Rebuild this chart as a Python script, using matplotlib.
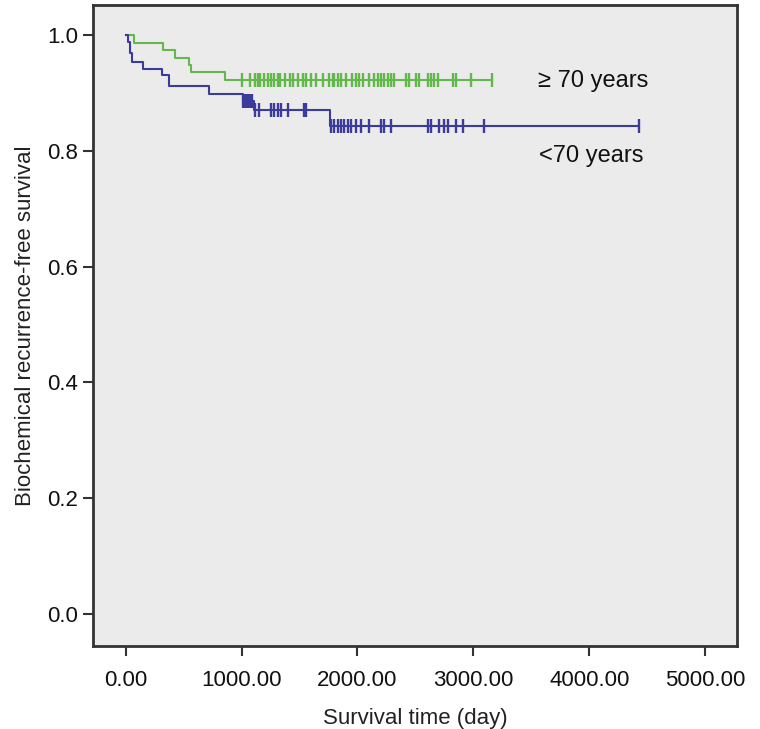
import matplotlib
matplotlib.use("Agg")
import matplotlib.pyplot as plt

plt.rcParams['font.family'] = ['Liberation Sans', 'DejaVu Sans']

# Kaplan-Meier steps (day, survival after the drop)
old_event_days = [0, 72, 324, 425, 549, 563, 857]
old_event_surv = [1.0, 0.987, 0.974, 0.960, 0.948, 0.936, 0.923]
old_end_day = 3157
old_censor_days = [1006, 1069, 1118, 1141, 1161, 1198, 1227, 1256, 1284, 1313,
                   1333, 1371, 1414, 1448, 1485, 1529, 1557, 1601, 1644, 1701,
                   1753, 1787, 1801, 1830, 1859, 1902, 1954, 1989, 2017, 2046,
                   2103, 2147, 2175, 2204, 2233, 2261, 2290, 2319, 2420, 2448,
                   2506, 2534, 2606, 2635, 2664, 2692, 2822, 2851, 2980, 3157]

young_event_days = [0, 17, 37, 52, 152, 311, 374, 719, 1010, 1107, 1763]
young_event_surv = [1.0, 0.988, 0.970, 0.954, 0.941, 0.931, 0.912, 0.898, 0.886, 0.870, 0.843]
young_end_day = 4425
young_censor_days = [1015, 1030, 1045, 1060, 1075, 1090,
                     1118, 1152, 1256, 1284, 1313, 1342, 1400, 1543, 1557,
                     1770, 1801, 1830, 1859, 1888, 1916, 1945, 1989, 2032, 2103,
                     2204, 2233, 2290, 2606, 2635, 2707, 2750, 2779, 2851, 2908,
                     3095, 4425]

x_ticks = [0, 1000, 2000, 3000, 4000, 5000]
y_ticks = [0.0, 0.2, 0.4, 0.6, 0.8, 1.0]

green = '#62b84a'
blue = '#3b3b9c'


def surv_at(days, surv, t):
    s = surv[0]
    for d, v in zip(days, surv):
        if d <= t:
            s = v
    return s


fig = plt.figure(figsize=(7.6, 7.29), dpi=100)
ax = fig.add_axes([0.1224, 0.1132, 0.8473, 0.8799])
ax.set_facecolor('#ebebeb')

for days, surv, end, cens, col in [
        (old_event_days, old_event_surv, old_end_day, old_censor_days, green),
        (young_event_days, young_event_surv, young_end_day, young_censor_days, blue)]:
    xs = list(days) + [end]
    ys = list(surv) + [surv[-1]]
    ax.step(xs, ys, where='post', color=col, lw=1.5)
    cy = [surv_at(days, surv, c) for c in cens]
    ax.plot(cens, cy, ls='none', marker='|', ms=10, mew=1.7, color=col)

# group labels
ax.text(3557, 0.921, '\u2265 70 years', fontsize=17,
        va='center', ha='left', color='#111111')
ax.text(3566, 0.791, '<70 years', fontsize=17,
        va='center', ha='left', color='#111111')

ax.set_xlim(-281, 5274)
ax.set_ylim(-0.056, 1.052)
ax.set_xticks(x_ticks)
ax.set_xticklabels(['%.2f' % v for v in x_ticks])
ax.set_yticks(y_ticks)
ax.set_yticklabels(['%.1f' % v for v in y_ticks])
ax.tick_params(direction='out', length=7, width=1.5, color='#333333',
               labelsize=16, labelcolor='#111111')
ax.tick_params(axis='x', pad=10)
for sp in ax.spines.values():
    sp.set_linewidth(2)
    sp.set_color('#333333')

ax.set_xlabel('Survival time (day)', fontsize=16, color='#222222', labelpad=12)
ax.set_ylabel('Biochemical recurrence-free survival', fontsize=16, color='#222222', labelpad=8)

fig.savefig('out.png', dpi=100)
